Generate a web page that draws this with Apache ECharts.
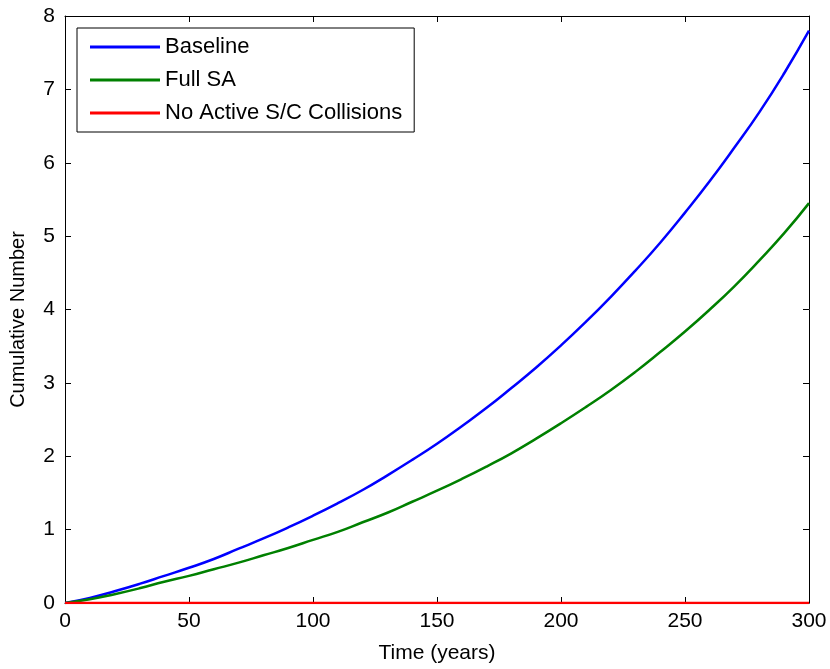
<!DOCTYPE html>
<html><head><meta charset="utf-8">
<script src="https://cdn.jsdelivr.net/npm/echarts@6/dist/echarts.min.js"></script>
<style>html,body{margin:0;padding:0;background:#fff}#c{width:830px;height:669px}</style>
</head><body><div id="c"></div>
<script>
const years = [0,10,20,30,40,50,60,70,80,90,100,110,120,130,140,150,160,170,180,190,200,210,220,230,240,250,260,270,280,290,300];
const baseline = [0,0.07,0.16,0.26,0.37,0.48,0.60,0.74,0.88,1.03,1.19,1.36,1.54,1.74,1.95,2.17,2.41,2.66,2.93,3.21,3.51,3.83,4.17,4.53,4.91,5.32,5.75,6.21,6.69,7.22,7.8];
const fullSA = [0,0.05,0.12,0.20,0.29,0.37,0.46,0.55,0.65,0.75,0.86,0.97,1.10,1.23,1.38,1.53,1.69,1.86,2.04,2.24,2.45,2.67,2.90,3.15,3.42,3.70,4.00,4.32,4.67,5.04,5.45];
const noActive = [0,0,0,0,0,0,0,0,0,0,0,0,0,0,0,0,0,0,0,0,0,0,0,0,0,0,0,0,0,0,0];
const seriesNames = ['Baseline','Full SA','No Active S/C Collisions'];
const colors = ['#0000ff','#008000','#ff0000'];
const font = 'Liberation Sans, Arial, sans-serif';
const pairs = a => years.map((x,i)=>[x,a[i]]);
const chart = echarts.init(document.getElementById('c'));
const axLine = {show:true, onZero:false, lineStyle:{color:'#000', width:1}};
const tick = {show:true, inside:true, length:6, lineStyle:{color:'#000'}};
const lbl = {color:'#000', fontFamily:font, fontSize:21};
chart.setOption({
  animation:false,
  grid:{left:65, right:21, top:16, bottom:66, containLabel:false, outerBoundsMode:'none'},
  legend:{orient:'vertical', left:77, top:28, data:seriesNames, icon:'rect', itemWidth:70, itemHeight:3, itemGap:11,
    borderColor:'#000', borderWidth:1, padding:[8,12,8,13], textStyle:{color:'#000', fontFamily:font, fontSize:22, padding:[0,0,0,0]}},
  xAxis:[
    {type:'value', min:0, max:300, interval:50, position:'bottom', axisLine:axLine, axisTick:tick, splitLine:{show:false},
     axisLabel:Object.assign({margin:8}, lbl), name:'Time (years)', nameLocation:'middle', nameGap:40, nameTextStyle:{color:'#000', fontFamily:font, fontSize:21}},
    {type:'value', min:0, max:300, interval:50, position:'top', axisLine:axLine, axisTick:tick, splitLine:{show:false}, axisLabel:{show:false}}
  ],
  yAxis:[
    {type:'value', min:0, max:8, interval:1, position:'left', axisLine:axLine, axisTick:tick, splitLine:{show:false},
     axisLabel:Object.assign({margin:10}, lbl), name:'Cumulative Number', nameLocation:'middle', nameGap:37,
     nameTextStyle:{color:'#000', fontFamily:font, fontSize:20, padding:[0,20,0,0]}},
    {type:'value', min:0, max:8, interval:1, position:'right', axisLine:axLine, axisTick:tick, splitLine:{show:false}, axisLabel:{show:false}}
  ],
  series:[baseline, fullSA, noActive].map((d,i)=>({
    name:seriesNames[i], type:'line', data:pairs(d), smooth:true, showSymbol:false, color:colors[i],
    lineStyle:{color:colors[i], width:2.5}
  }))
});
</script></body></html>
